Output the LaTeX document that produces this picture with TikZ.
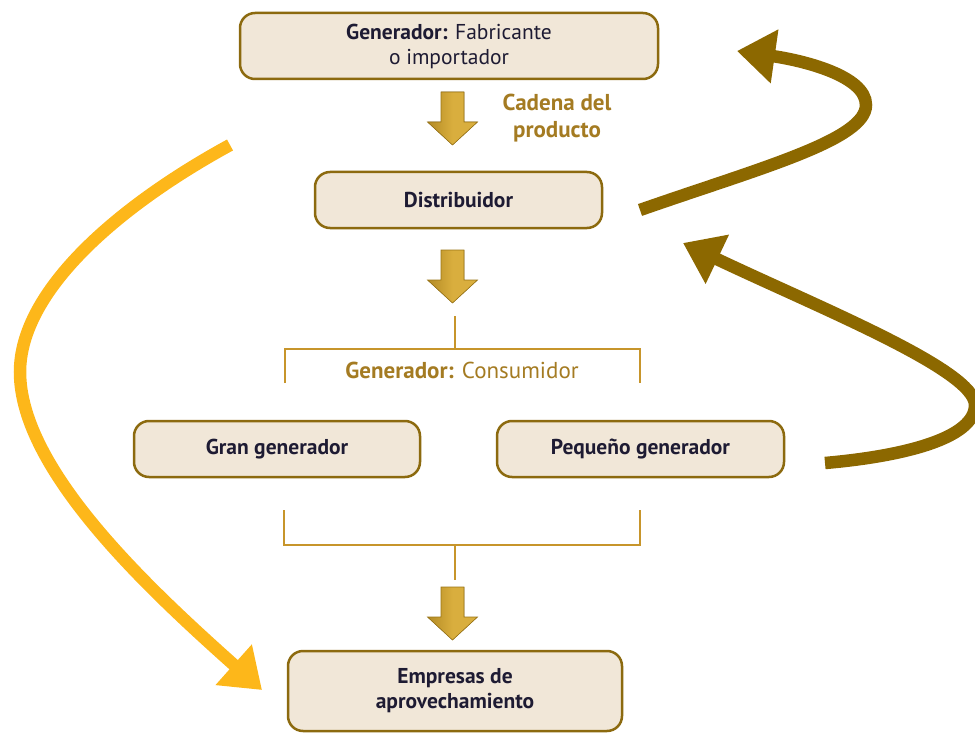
\documentclass[tikz,border=0pt]{standalone}
\usepackage{fontspec}
\setmainfont{PT Sans}
\usetikzlibrary{arrows.meta}
\definecolor{boxfill}{HTML}{F1E7D8}
\definecolor{boxdraw}{HTML}{8C6A0F}
\definecolor{txtcol}{HTML}{1E1B33}
\definecolor{goldline}{HTML}{C7952B}
\definecolor{lblcol}{HTML}{A47B22}
\definecolor{brownarr}{HTML}{8C6800}
\definecolor{yellarr}{HTML}{FDB71A}
\definecolor{blkL}{HTML}{B38B25}
\definecolor{blkR}{HTML}{D9AE3E}
\definecolor{blkEdge}{HTML}{9A7415}
\tikzset{
  boxnode/.style={draw=boxdraw, fill=boxfill, line width=2.5pt, rounded corners=15pt,
    text=txtcol, align=center, font=\fontsize{21.5}{25}\selectfont, inner sep=0pt},
  bracketline/.style={draw=goldline, line width=2.5pt},
  bigarrow/.style={line width=12.5pt, -{Triangle[length=38pt,width=52pt]}},
  blockarr/.style={draw=blkEdge, line width=0.6pt, left color=blkL, right color=blkR, middle color=blkR}
}
\newcommand{\myblockarrow}[2]{%
  \filldraw[blockarr] (#1-11.5,#2) -- (#1+11.5,#2) -- (#1+11.5,#2+30) -- (#1+25,#2+30)
    -- (#1,#2+53) -- (#1-25,#2+30) -- (#1-11.5,#2+30) -- cycle;}
\begin{document}
\begin{tikzpicture}[x=1pt,y=-1pt]
\useasboundingbox (0,0) rectangle (975,733);
% boxes
\node[boxnode, minimum width=418pt, minimum height=66pt] (gen) at (449,46)
  {\textbf{Generador:} Fabricante\\o importador};
\node[boxnode, minimum width=287pt, minimum height=56pt] (dist) at (458.5,200)
  {\textbf{Distribuidor}};
\node[boxnode, minimum width=286pt, minimum height=56pt] (gran) at (277,449)
  {\textbf{Gran generador}};
\node[boxnode, minimum width=287pt, minimum height=56pt] (peq) at (640.5,449)
  {\textbf{Pequeño generador}};
\node[boxnode, minimum width=334pt, minimum height=80pt] (emp) at (455,691)
  {\textbf{Empresas de}\\\textbf{aprovechamiento}};
% label
\node[text=lblcol, align=center, font=\fontsize{23}{27}\selectfont\bfseries] (cad) at (557,118)
  {Cadena del\\producto};
% block arrows
\myblockarrow{452.5}{92}
\myblockarrow{452.5}{250}
\myblockarrow{452.5}{587}
% upper bracket
\coordinate (ua) at (455,316);
\coordinate (ub) at (455,349);
\coordinate (ul) at (285,349);
\coordinate (ur) at (640,349);
\coordinate (ul2) at (285,383);
\coordinate (ur2) at (640,383);
\draw[bracketline] (ua) -- (ub);
\draw[bracketline] (ul2) -- (ul) -- (ur) -- (ur2);
\node[text=lblcol, font=\fontsize{23}{26}\selectfont] (cons) at (462,370)
  {\textbf{Generador:} Consumidor};
% lower bracket
\coordinate (ll) at (284,510);
\coordinate (ll2) at (284,545);
\coordinate (lr) at (640,510);
\coordinate (lr2) at (640,545);
\coordinate (lm) at (455,545);
\coordinate (lm2) at (455,580);
\draw[bracketline] (ll) -- (ll2) -- (lr2) -- (lr);
\draw[bracketline] (lm) -- (lm2);
% yellow curved arrow
\coordinate (ys) at (230,145);
\coordinate (ye) at (262,690);
\draw[bigarrow, draw=yellarr] (ys) .. controls (120,205) and (20,290) .. (20,372)
  .. controls (20,470) and (150,590) .. (ye);
% brown arrow 1
\coordinate (b1s) at (640,210);
\coordinate (b1e) at (737,51);
\draw[bigarrow, draw=brownarr] (b1s) .. controls (760,168) and (866,140) .. (866,105)
  .. controls (866,75) and (800,60) .. (b1e);
% brown arrow 2
\coordinate (b2s) at (825,463);
\coordinate (b2e) at (683,243);
\draw[bigarrow, draw=brownarr] (b2s) .. controls (905,456) and (975,438) .. (975,405)
  .. controls (975,370) and (820,308) .. (b2e);
\end{tikzpicture}
\end{document}
